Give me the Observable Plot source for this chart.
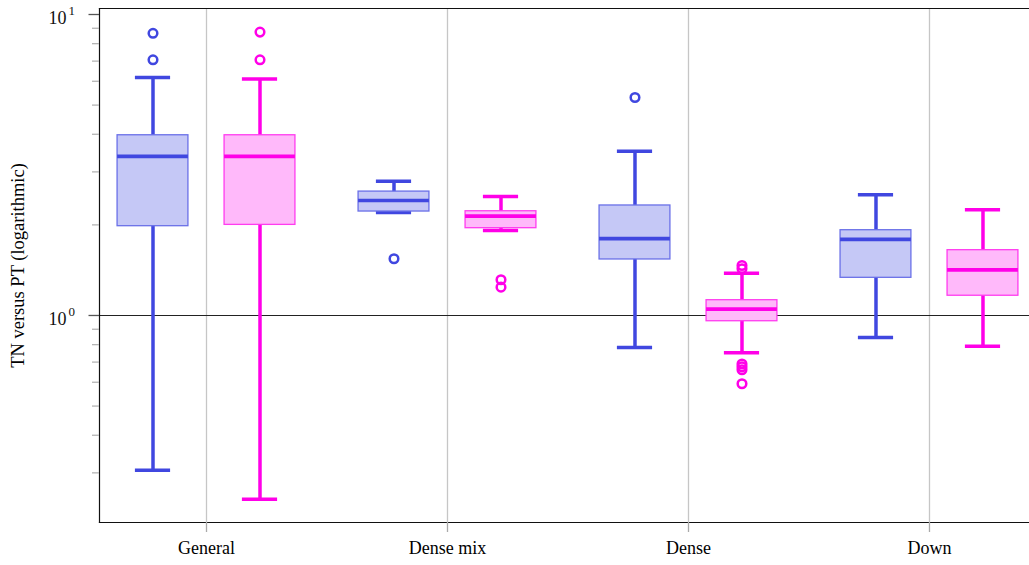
<!DOCTYPE html>
<html>
<head>
<meta charset="utf-8">
<script src="https://cdn.jsdelivr.net/npm/d3@7"></script>
<script src="https://cdn.jsdelivr.net/npm/@observablehq/plot@0.6"></script>
<style>
  html, body { margin: 0; padding: 0; background: #fff; }
  #chart svg { display: block; font-family: "Liberation Serif", serif; }
</style>
</head>
<body>
<div id="chart"></div>
<script>
// Categories and series
const categories = ["General", "Dense mix", "Dense", "Down"];
const seriesNames = ["TN-blue", "TN-magenta"];
const seriesColors = ["#4047e0", "#ff00e8"];
const seriesFills = ["#c5c8f6", "#ffb9fa"];
const seriesBoxStroke = ["#6a70e8", "#ff3cef"];

// Series 1 (blue) box statistics
const blueLow = [0.306, 2.20, 0.783, 0.845];
const blueQ1 = [1.98, 2.215, 1.535, 1.334];
const blueMedian = [3.38, 2.41, 1.80, 1.789];
const blueQ3 = [3.97, 2.58, 2.32, 1.92];
const blueHigh = [6.17, 2.79, 3.51, 2.52];
const blueOutliers = [[8.66, 7.07], [1.543], [5.3], []];

// Series 2 (magenta) box statistics
const magLow = [0.245, 1.917, 0.752, 0.791];
const magQ1 = [2.0, 1.95, 0.957, 1.163];
const magMedian = [3.38, 2.14, 1.05, 1.418];
const magQ3 = [3.97, 2.22, 1.124, 1.648];
const magHigh = [6.11, 2.486, 1.382, 2.245];
const magOutliers = [[8.74, 7.07], [1.314, 1.242], [1.466, 1.43, 0.69, 0.675, 0.66, 0.593], []];

// Axis tick values
const majorTicks = [1, 10];
const minorTicks = [0.3, 0.4, 0.5, 0.6, 0.7, 0.8, 0.9, 2, 3, 4, 5, 6, 7, 8, 9];

// Layout in category units
const groupOffset = 0.222;
const boxHalf = 0.147;
const capHalf = 0.073;

const stats = [
  {low: blueLow, q1: blueQ1, med: blueMedian, q3: blueQ3, high: blueHigh, out: blueOutliers},
  {low: magLow, q1: magQ1, med: magMedian, q3: magQ3, high: magHigh, out: magOutliers}
];

const boxes = [];
const outliers = [];
stats.forEach((s, si) => {
  categories.forEach((c, ci) => {
    const pos = ci + (si === 0 ? -groupOffset : groupOffset);
    boxes.push({series: seriesNames[si], si, cat: c, pos,
      low: s.low[ci], q1: s.q1[ci], med: s.med[ci], q3: s.q3[ci], high: s.high[ci]});
    s.out[ci].forEach(v => outliers.push({series: seriesNames[si], si, cat: c, pos, value: v}));
  });
});

const colorOf = d => seriesColors[d.si];

const chart = Plot.plot({
  width: 1029,
  height: 565,
  marginLeft: 99,
  marginRight: 0,
  marginTop: 8,
  marginBottom: 43,
  style: {fontFamily: "Liberation Serif, serif", background: "#fff"},
  x: {type: "linear", domain: [-0.444, 3.415], axis: null},
  y: {type: "log", domain: [0.2052, 10.47], axis: null},
  marks: [
    Plot.gridX([0, 1, 2, 3], {stroke: "#c6c6c6", strokeOpacity: 1, strokeWidth: 1.3}),
    Plot.ruleY([1], {stroke: "#222", strokeWidth: 1.1}),
    // whiskers
    Plot.ruleX(boxes, {x: "pos", y1: "low", y2: "high", stroke: colorOf, strokeWidth: 3.5}),
    // caps
    Plot.ruleY(boxes, {y: "low", x1: d => d.pos - capHalf, x2: d => d.pos + capHalf, stroke: colorOf, strokeWidth: 3.5}),
    Plot.ruleY(boxes, {y: "high", x1: d => d.pos - capHalf, x2: d => d.pos + capHalf, stroke: colorOf, strokeWidth: 3.5}),
    // boxes
    Plot.rect(boxes, {x1: d => d.pos - boxHalf, x2: d => d.pos + boxHalf, y1: "q1", y2: "q3",
      fill: d => seriesFills[d.si], stroke: d => seriesBoxStroke[d.si], strokeWidth: 1.3}),
    // medians
    Plot.ruleY(boxes, {y: "med", x1: d => d.pos - boxHalf, x2: d => d.pos + boxHalf, stroke: colorOf, strokeWidth: 3.7}),
    // outliers
    Plot.dot(outliers, {x: "pos", y: "value", r: 4.3, stroke: colorOf, strokeWidth: 2.5, fill: "none"}),
    // frame: top, left, bottom
    Plot.frame({anchor: "top", stroke: "#111", strokeWidth: 1.2}),
    Plot.frame({anchor: "left", stroke: "#111", strokeWidth: 1.2}),
    Plot.frame({anchor: "bottom", stroke: "#111", strokeWidth: 1.2}),
    // y axis ticks
    Plot.axisY(minorTicks, {tickSize: 7, stroke: "#b4b4b4", strokeWidth: 1.3, tickFormat: () => ""}),
    Plot.axisY(majorTicks, {tickSize: 10.5, stroke: "#555", strokeWidth: 1.3, tickFormat: () => "",
      label: "TN versus PT (logarithmic)", labelAnchor: "center", labelArrow: "none", labelOffset: 89, fontSize: 18.5}),
    // y tick labels 10^k
    Plot.text(majorTicks, {y: d => d, text: () => "10", frameAnchor: "left", dx: -33, dy: 4, textAnchor: "end", fontSize: 18, fill: "#111"}),
    Plot.text(majorTicks, {y: d => d, text: d => String(Math.round(Math.log10(d))), frameAnchor: "left", dx: -31, dy: -4, textAnchor: "start", fontSize: 13, fill: "#111"}),
    // x axis
    Plot.axisX([0, 1, 2, 3], {tickSize: 10, stroke: "#aaa", strokeWidth: 1.3, tickPadding: 9, fontSize: 18,
      tickFormat: i => categories[i], label: null})
  ]
});

document.getElementById("chart").appendChild(chart);
</script>
</body>
</html>
